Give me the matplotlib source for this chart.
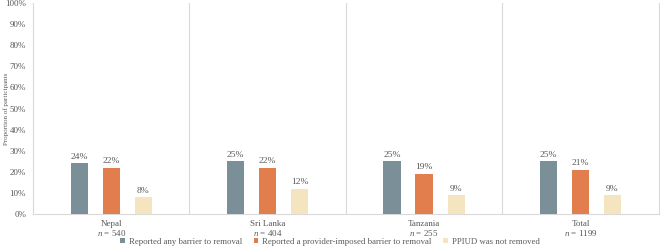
import numpy as np
import matplotlib
matplotlib.use("Agg")
import matplotlib.pyplot as plt

plt.rcParams['font.family'] = ['Liberation Serif', 'DejaVu Serif']
plt.rcParams['mathtext.fontset'] = 'custom'
plt.rcParams['mathtext.it'] = 'Liberation Serif:italic'
plt.rcParams['mathtext.rm'] = 'Liberation Serif'

# data
sites = ['Nepal', 'Sri Lanka', 'Tanzania', 'Total']
n_sizes = [540, 404, 255, 1199]
any_barrier = [24, 25, 25, 25]
provider_barrier = [22, 22, 19, 21]
not_removed = [8, 12, 9, 9]
series_names = ['Reported any barrier to removal',
                'Reported a provider-imposed barrier to removal',
                'PPIUD was not removed']

colors = ['#7B8F99', '#E27D4E', '#F4E4BF']
txt = '#595959'
grid = '#D9D9D9'

fig = plt.figure(figsize=(6.6, 2.49), dpi=100)
ax = fig.add_axes([0.05, 0.14, 0.948, 0.848])

x = np.arange(len(sites))
w = 0.11
offsets = [-0.205, 0, 0.205]
for vals, off, c, name in zip([any_barrier, provider_barrier, not_removed], offsets, colors, series_names):
    bars = ax.bar(x + off, vals, w, color=c, label=name, zorder=3)
    for b, v in zip(bars, vals):
        ax.text(b.get_x() + b.get_width() / 2, v + 1.2, f'{v}%', ha='center', va='bottom',
                fontsize=6.8, color=txt)

ax.set_xlim(-0.5, len(sites) - 0.5)
ax.set_ylim(0, 100)
ax.set_yticks(range(0, 101, 10))
ax.set_yticklabels([f'{v}%' for v in range(0, 101, 10)])
ax.set_xticks(x)
ax.set_xticklabels([f'{s}\n$n$ = {n}' for s, n in zip(sites, n_sizes)], linespacing=1.05)
ax.tick_params(axis='both', length=0, labelsize=6.5, colors=txt, pad=4)
ax.tick_params(axis='y', pad=5)

# category separators
for b in np.arange(0.5, len(sites) - 0.5, 1):
    ax.axvline(b, color=grid, lw=0.8, zorder=1)
for side in ['left', 'right', 'bottom']:
    ax.spines[side].set_color(grid)
    ax.spines[side].set_linewidth(0.8)
ax.spines['top'].set_visible(False)

fig.text(0.009, 0.565, 'Proportion of participants', rotation=90, ha='center', va='center',
         fontsize=5, color=txt)

fig.legend(*ax.get_legend_handles_labels(), loc='center', bbox_to_anchor=(0.5, 0.03), ncol=3,
           frameon=False, fontsize=6.3, handlelength=0.5, handleheight=0.5, handletextpad=0.5,
           columnspacing=1.3, labelcolor=txt, borderaxespad=0, borderpad=0)

fig.savefig('out.png', dpi=100)
